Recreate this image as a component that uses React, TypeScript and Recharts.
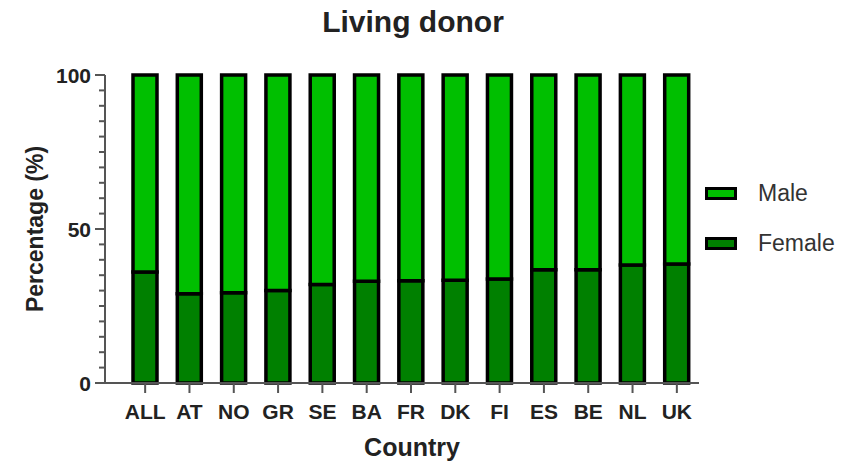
import { BarChart, Bar, XAxis, YAxis, Label } from "recharts";

// share of living donors by sex
const countries = ["ALL", "AT", "NO", "GR", "SE", "BA", "FR", "DK", "FI", "ES", "BE", "NL", "UK"];
const femalePct = [36, 29, 29.3, 30, 32, 33, 33.2, 33.4, 33.8, 36.8, 36.8, 38.3, 38.6];
const malePct = [64, 71, 70.7, 70, 68, 67, 66.8, 66.6, 66.2, 63.2, 63.2, 61.7, 61.4];

const yTicks = [0, 5, 10, 15, 20, 25, 30, 35, 40, 45, 50, 55, 60, 65, 70, 75, 80, 85, 90, 95, 100];
const yTickLabels = [0, 50, 100];

const FONT = '"Liberation Sans", Arial, Helvetica, sans-serif';
const MALE_COLOR = "#00BF00";
const FEMALE_COLOR = "#008000";
const AXIS_COLOR = "#555";

const data = countries.map((country, i) => ({
  country,
  Female: femalePct[i],
  Male: malePct[i],
}));

// legend order top -> bottom
const legendItems = [
  { name: "Male", color: MALE_COLOR },
  { name: "Female", color: FEMALE_COLOR },
];

function YTick(props: any) {
  const { x, y, payload } = props;
  const major = yTickLabels.includes(payload.value);
  return (
    <g>
      <line
        x1={x - (major ? 10 : 6)}
        x2={x}
        y1={y}
        y2={y}
        stroke={AXIS_COLOR}
        strokeWidth={2}
      />
      {major && (
        <text
          x={x - 14}
          y={y}
          textAnchor="end"
          dominantBaseline="central"
          fill="#222"
          fontSize={21}
          fontWeight="bold"
          fontFamily={FONT}
        >
          {payload.value}
        </text>
      )}
    </g>
  );
}

export default function App() {
  return (
    <div
      style={{
        position: "absolute",
        left: 0,
        top: 0,
        width: 854,
        height: 462,
        background: "#fff",
        fontFamily: FONT,
      }}
    >
      <div
        style={{
          position: "absolute",
          left: 0,
          top: 7,
          width: 826,
          textAlign: "center",
          fontSize: 30,
          lineHeight: "30px",
          fontWeight: "bold",
          color: "#222",
        }}
      >
        Living donor
      </div>

      <BarChart
        width={854}
        height={462}
        data={data}
        margin={{ top: 75, right: 155, bottom: 0, left: 0 }}
      >
        <XAxis
          dataKey="country"
          interval={0}
          height={79}
          padding={{ left: 18, right: 0 }}
          tickSize={10}
          tickMargin={11}
          tickLine={{ stroke: AXIS_COLOR, strokeWidth: 2 }}
          axisLine={{ stroke: AXIS_COLOR, strokeWidth: 2 }}
          tick={{ fill: "#222", fontSize: 21, fontWeight: "bold", fontFamily: FONT }}
        >
          <Label
            content={(p: any) => {
              const vb = p.viewBox;
              return (
                <text
                  x={vb.x + vb.width / 2 + 10}
                  y={447}
                  textAnchor="middle"
                  dominantBaseline="central"
                  fill="#222"
                  fontSize={25}
                  fontWeight="bold"
                  fontFamily={FONT}
                >
                  Country
                </text>
              );
            }}
          />
        </XAxis>
        <YAxis
          width={105}
          domain={[0, 100]}
          ticks={yTicks}
          interval={0}
          tickSize={0}
          tickMargin={0}
          tickLine={false}
          axisLine={{ stroke: AXIS_COLOR, strokeWidth: 2 }}
          tick={<YTick />}
        >
          <Label
            content={(p: any) => {
              const vb = p.viewBox;
              const cx = vb.x + 35;
              const cy = vb.y + vb.height / 2;
              return (
                <text
                  x={cx}
                  y={cy}
                  transform={`rotate(-90, ${cx}, ${cy})`}
                  textAnchor="middle"
                  dominantBaseline="central"
                  fill="#222"
                  fontSize={23}
                  fontWeight="bold"
                  fontFamily={FONT}
                >
                  Percentage (%)
                </text>
              );
            }}
          />
        </YAxis>
        <Bar
          dataKey="Female"
          stackId="sex"
          fill={FEMALE_COLOR}
          stroke="#000"
          strokeWidth={3.5}
          barSize={24}
          isAnimationActive={false}
        />
        <Bar
          dataKey="Male"
          stackId="sex"
          fill={MALE_COLOR}
          stroke="#000"
          strokeWidth={3.5}
          barSize={24}
          isAnimationActive={false}
        />
      </BarChart>

      <div style={{ position: "absolute", left: 705, top: 168 }}>
        {legendItems.map((item) => (
          <div
            key={item.name}
            style={{ display: "flex", alignItems: "center", height: 50 }}
          >
            <div
              style={{
                boxSizing: "border-box",
                width: 32,
                height: 13,
                border: "3px solid #000",
                background: item.color,
              }}
            />
            <span style={{ marginLeft: 21, fontSize: 23, color: "#333" }}>
              {item.name}
            </span>
          </div>
        ))}
      </div>
    </div>
  );
}
